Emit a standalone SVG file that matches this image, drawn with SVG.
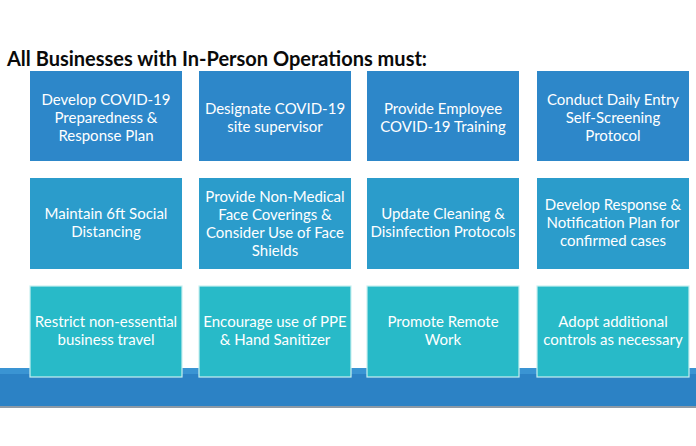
<svg xmlns="http://www.w3.org/2000/svg" width="696" height="446" viewBox="0 0 696 446">
<style>
.t{font-family:Lato,"Open Sans","Liberation Sans",sans-serif;font-size:15px;fill:#ffffff;text-anchor:middle}
.title{font-family:Lato,"Open Sans","Liberation Sans",sans-serif;font-size:20px;font-weight:bold;fill:#0a0a0a}
.r1{fill:#2d87c9}
.r2{fill:#2b9ccb}
.r3{fill:#28bac8;stroke:#c8f0f0;stroke-width:1.2}
</style>
<rect width="696" height="446" fill="#ffffff"/>
<g id="band">
<rect x="0" y="368" width="696" height="39" fill="#2c82c5"/>
<rect x="0" y="368" width="696" height="6" fill="#3a94d3"/>
<rect x="0" y="406" width="696" height="2" fill="#8d9aa6"/>
</g>
<text class="title" x="7" y="66">All Businesses with In-Person Operations must:</text>
<g id="n1"><rect class="r1" x="30" y="71" width="152" height="90"/><text class="t" x="106" y="105">Develop COVID-19</text><text class="t" x="106" y="123">Preparedness &amp;</text><text class="t" x="106" y="141">Response Plan</text></g>
<g id="n2"><rect class="r1" x="199" y="71" width="152" height="90"/><text class="t" x="275" y="114">Designate COVID-19</text><text class="t" x="275" y="132">site supervisor</text></g>
<g id="n3"><rect class="r1" x="367" y="71" width="152" height="90"/><text class="t" x="443" y="114">Provide Employee</text><text class="t" x="443" y="132">COVID-19 Training</text></g>
<g id="n4"><rect class="r1" x="537" y="71" width="152" height="90"/><text class="t" x="613" y="105">Conduct Daily Entry</text><text class="t" x="613" y="123">Self-Screening</text><text class="t" x="613" y="141">Protocol</text></g>
<g id="n5"><rect class="r2" x="30" y="178" width="152" height="91"/><text class="t" x="106" y="219">Maintain 6ft Social</text><text class="t" x="106" y="237">Distancing</text></g>
<g id="n6"><rect class="r2" x="199" y="178" width="152" height="91"/><text class="t" x="275" y="202">Provide Non-Medical</text><text class="t" x="275" y="220">Face Coverings &amp;</text><text class="t" x="275" y="238">Consider Use of Face</text><text class="t" x="275" y="256">Shields</text></g>
<g id="n7"><rect class="r2" x="367" y="178" width="152" height="91"/><text class="t" x="443" y="219">Update Cleaning &amp;</text><text class="t" x="443" y="237">Disinfection Protocols</text></g>
<g id="n8"><rect class="r2" x="537" y="178" width="152" height="91"/><text class="t" x="613" y="210">Develop Response &amp;</text><text class="t" x="613" y="228">Notification Plan for</text><text class="t" x="613" y="246">confirmed cases</text></g>
<g id="n9"><rect class="r3" x="30" y="286" width="152" height="91"/><text class="t" x="106" y="327">Restrict non-essential</text><text class="t" x="106" y="345">business travel</text></g>
<g id="n10"><rect class="r3" x="199" y="286" width="152" height="91"/><text class="t" x="275" y="327">Encourage use of PPE</text><text class="t" x="275" y="345">&amp; Hand Sanitizer</text></g>
<g id="n11"><rect class="r3" x="367" y="286" width="152" height="91"/><text class="t" x="443" y="327">Promote Remote</text><text class="t" x="443" y="345">Work</text></g>
<g id="n12"><rect class="r3" x="537" y="286" width="152" height="91"/><text class="t" x="613" y="327">Adopt additional</text><text class="t" x="613" y="345">controls as necessary</text></g>
<g id="connectors"></g>
</svg>
